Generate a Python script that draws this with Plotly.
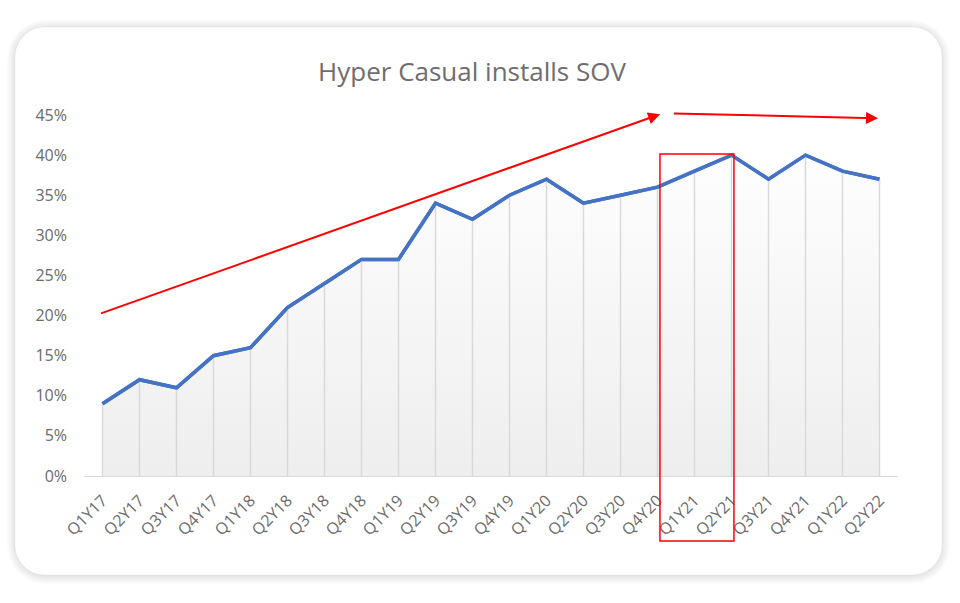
import plotly.graph_objects as go

categories = ["Q1Y17", "Q2Y17", "Q3Y17", "Q4Y17", "Q1Y18", "Q2Y18", "Q3Y18", "Q4Y18",
              "Q1Y19", "Q2Y19", "Q3Y19", "Q4Y19", "Q1Y20", "Q2Y20", "Q3Y20", "Q4Y20",
              "Q1Y21", "Q2Y21", "Q3Y21", "Q4Y21", "Q1Y22", "Q2Y22"]
sov = [0.09, 0.12, 0.11, 0.15, 0.16, 0.21, 0.24, 0.27, 0.27, 0.34, 0.32, 0.35,
       0.37, 0.34, 0.35, 0.36, 0.38, 0.40, 0.37, 0.40, 0.38, 0.37]
y_ticks = [0, 0.05, 0.10, 0.15, 0.20, 0.25, 0.30, 0.35, 0.40, 0.45]
y_tick_labels = ["0%", "5%", "10%", "15%", "20%", "25%", "30%", "35%", "40%", "45%"]

W, H = 960, 603
ML, MR, MT, MB = 84, 62, 115, 127
PW, PH = W - ML - MR, H - MT - MB


def px(X):
    return (X - ML) / PW


def py(Y):
    return (H - MB - Y) / PH


def rounded_rect(x0, y0, x1, y1, r):
    # pixel coords (y down) -> paper path
    k = 0.5523 * r
    pts = []
    pts.append("M %f,%f" % (px(x0 + r), py(y0)))
    pts.append("L %f,%f" % (px(x1 - r), py(y0)))
    pts.append("C %f,%f %f,%f %f,%f" % (px(x1 - r + k), py(y0), px(x1), py(y0 + r - k), px(x1), py(y0 + r)))
    pts.append("L %f,%f" % (px(x1), py(y1 - r)))
    pts.append("C %f,%f %f,%f %f,%f" % (px(x1), py(y1 - r + k), px(x1 - r + k), py(y1), px(x1 - r), py(y1)))
    pts.append("L %f,%f" % (px(x0 + r), py(y1)))
    pts.append("C %f,%f %f,%f %f,%f" % (px(x0 + r - k), py(y1), px(x0), py(y1 - r + k), px(x0), py(y1 - r)))
    pts.append("L %f,%f" % (px(x0), py(y0 + r)))
    pts.append("C %f,%f %f,%f %f,%f" % (px(x0), py(y0 + r - k), px(x0 + r - k), py(y0), px(x0 + r), py(y0)))
    pts.append("Z")
    return " ".join(pts)


shapes = []
# soft shadow
for i in range(8, 0, -1):
    shapes.append(dict(type="path", xref="paper", yref="paper", layer="below",
                       path=rounded_rect(15 - i, 27 - i + 1, 942 + i, 575 + i + 1, 30 + i),
                       fillcolor="rgba(0,0,0,0.012)", line=dict(width=0)))
# card
shapes.append(dict(type="path", xref="paper", yref="paper", layer="below",
                   path=rounded_rect(15, 27, 942, 575, 30),
                   fillcolor="#ffffff", line=dict(color="rgba(0,0,0,0.04)", width=1)))

n = len(categories)


def cx(i):
    return (i + 0.5) / n


# red highlight box around Q1Y21-Q2Y21
shapes.append(dict(type="rect", xref="paper", yref="paper", layer="above",
                   x0=cx(15) + 0.003, x1=cx(17) + 0.003, y0=py(541), y1=0.40 / 0.45 + 0.003,
                   line=dict(color="#ff0000", width=1.5), fillcolor="rgba(0,0,0,0)"))

fig = go.Figure()

# line with gradient fill
fig.add_trace(go.Scatter(
    x=categories, y=sov, mode="lines", fill="tozeroy",
    fillgradient=dict(type="vertical", start=0, stop=0.40,
                      colorscale=[[0, "rgba(238,238,238,1)"], [1, "rgba(254,254,254,1)"]]),
    line=dict(color="#4472c4", width=3.5), showlegend=False))

# drop lines above fill
fig.add_trace(go.Scatter(
    x=categories, y=sov, mode="markers", marker=dict(size=0.1, color="rgba(0,0,0,0)"),
    error_y=dict(type="data", symmetric=False, array=[0] * n, arrayminus=sov,
                 color="#d9d9d9", thickness=1.5, width=0),
    hoverinfo="skip", showlegend=False))

# line on top
fig.add_trace(go.Scatter(
    x=categories, y=sov, mode="lines",
    line=dict(color="#4472c4", width=3.5), showlegend=False))

annotations = [
    dict(xref="x", yref="y", axref="x", ayref="y",
         x=15.07, y=0.451, ax=-0.08, ay=0.202, text="", showarrow=True,
         arrowhead=2, arrowsize=1.2, arrowwidth=2, arrowcolor="#ff0000"),
    dict(xref="x", yref="y", axref="x", ayref="y",
         x=20.96, y=0.446, ax=15.4, ay=0.452, text="", showarrow=True,
         arrowhead=2, arrowsize=1.2, arrowwidth=2, arrowcolor="#ff0000"),
]

fig.update_layout(
    width=W, height=H,
    margin=dict(l=ML, r=MR, t=MT, b=MB, pad=0),
    paper_bgcolor="#ffffff", plot_bgcolor="rgba(0,0,0,0)",
    title=dict(text="Hyper Casual installs SOV", x=472 / W, xanchor="center",
               y=1 - 72 / H, yanchor="middle",
               font=dict(family="Open Sans", size=26, color="#6e6e6e")),
    xaxis=dict(type="category", categoryorder="array", categoryarray=categories,
               range=[-0.5, n - 0.5], showgrid=False, zeroline=False,
               showline=True, linecolor="#d9d9d9", linewidth=1,
               tickangle=-45, ticks="", ticklabelstandoff=8,
               tickfont=dict(family="Open Sans", size=16, color="#6b6b6b")),
    yaxis=dict(range=[0, 0.45], tickvals=y_ticks, ticktext=y_tick_labels,
               showgrid=False, zeroline=False, showline=False, ticks="",
               ticklabelstandoff=16,
               tickfont=dict(family="Open Sans", size=16, color="#6b6b6b")),
    shapes=shapes, annotations=annotations, showlegend=False,
)

fig.write_html("out.html")
